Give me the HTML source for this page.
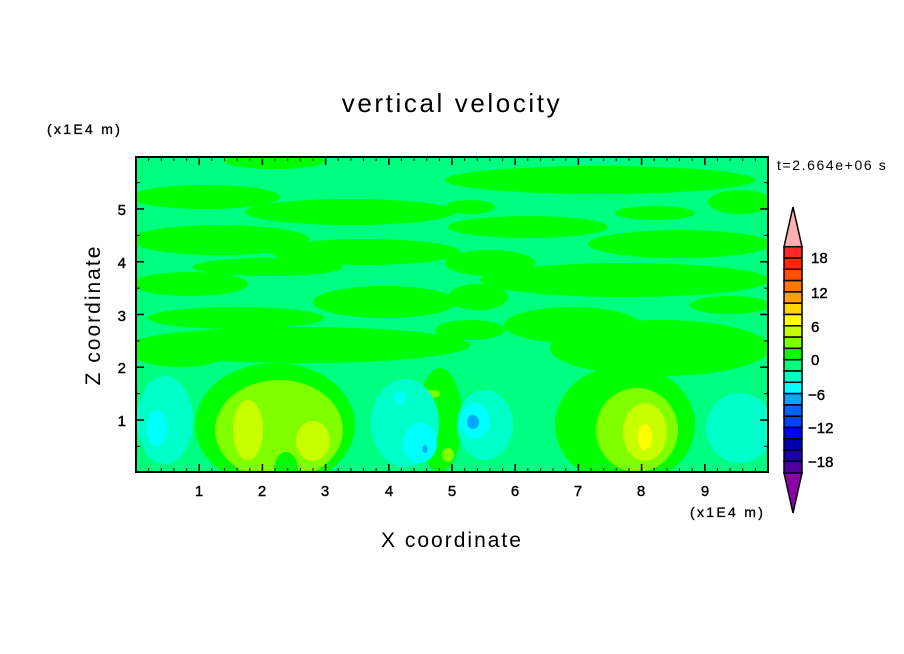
<!DOCTYPE html>
<html><head><meta charset="utf-8"><style>
html,body{margin:0;padding:0;background:#fff;}
svg{display:block;}
text{font-family:"Liberation Sans","DejaVu Sans",sans-serif;fill:#000;}
</style></head><body>
<svg width="904" height="654" viewBox="0 0 904 654" xmlns="http://www.w3.org/2000/svg">
<defs><clipPath id="c"><rect x="136" y="157" width="632" height="315"/></clipPath></defs>
<g clip-path="url(#c)">
<rect x="136" y="157" width="632" height="315" fill="#00ff80"/>
<g fill="#00ff00">
<ellipse cx="275" cy="161" rx="50" ry="8"/>
<ellipse cx="205" cy="197" rx="75" ry="12"/>
<ellipse cx="350" cy="212" rx="105" ry="13"/>
<ellipse cx="220" cy="240" rx="90" ry="15"/>
<ellipse cx="365" cy="252" rx="95" ry="13"/>
<ellipse cx="268" cy="267" rx="75" ry="9"/>
<ellipse cx="190" cy="284" rx="58" ry="12"/>
<ellipse cx="385" cy="302" rx="72" ry="16"/>
<ellipse cx="236" cy="318" rx="88" ry="11"/>
<ellipse cx="300" cy="345" rx="170" ry="18"/>
<ellipse cx="180" cy="355" rx="45" ry="12"/>
<ellipse cx="600" cy="180" rx="155" ry="14"/>
<ellipse cx="470" cy="207" rx="25" ry="7"/>
<ellipse cx="655" cy="213" rx="40" ry="7"/>
<ellipse cx="528" cy="227" rx="80" ry="11"/>
<ellipse cx="740" cy="202" rx="32" ry="12"/>
<ellipse cx="680" cy="244" rx="92" ry="14"/>
<ellipse cx="490" cy="263" rx="45" ry="13"/>
<ellipse cx="625" cy="280" rx="145" ry="17"/>
<ellipse cx="478" cy="297" rx="30" ry="13"/>
<ellipse cx="730" cy="305" rx="40" ry="9"/>
<ellipse cx="572" cy="325" rx="68" ry="18"/>
<ellipse cx="660" cy="348" rx="110" ry="28"/>
<ellipse cx="470" cy="330" rx="35" ry="10"/>
<ellipse cx="275" cy="425" rx="80" ry="62"/>
<ellipse cx="440" cy="420" rx="22" ry="52"/>
<ellipse cx="625" cy="425" rx="70" ry="60"/>
</g>
<g fill="#80ff00">
<ellipse cx="279" cy="430" rx="64" ry="50"/>
<ellipse cx="637" cy="430" rx="41" ry="42"/>
<ellipse cx="432" cy="394" rx="8" ry="4"/>
<ellipse cx="448" cy="455" rx="6" ry="7"/>
</g>
<ellipse cx="286" cy="470" rx="12" ry="18" fill="#00ff00"/>
<g fill="#c8ff00">
<ellipse cx="248" cy="430" rx="15" ry="30"/>
<ellipse cx="313" cy="441" rx="17" ry="20"/>
<ellipse cx="645" cy="432" rx="22" ry="29"/>
</g>
<ellipse cx="645" cy="437" rx="7" ry="13" fill="#ffff00"/>
<g fill="#00ffc8">
<ellipse cx="165" cy="420" rx="28" ry="44"/>
<ellipse cx="405" cy="423" rx="34" ry="44"/>
<ellipse cx="485" cy="425" rx="28" ry="35"/>
<ellipse cx="740" cy="428" rx="34" ry="35"/>
</g>
<g fill="#00ffff">
<ellipse cx="157" cy="428" rx="10" ry="18"/>
<ellipse cx="420" cy="443" rx="17" ry="20"/>
<ellipse cx="475" cy="421" rx="15" ry="18"/>
<ellipse cx="400" cy="398" rx="6" ry="6"/>
</g>
<ellipse cx="473" cy="422" rx="6" ry="7" fill="#00a8ff"/>
<ellipse cx="425" cy="449" rx="2.5" ry="4" fill="#00a8ff"/>
</g>
<rect x="136" y="157" width="632" height="315" fill="none" stroke="#000" stroke-width="2"/>
<g stroke="#000" stroke-width="1.5">
<path d="M199.2 472v-8M262.4 472v-8M325.6 472v-8M388.8 472v-8M452 472v-8M515.2 472v-8M578.4 472v-8M641.6 472v-8M704.8 472v-8M199.2 157v8M262.4 157v8M325.6 157v8M388.8 157v8M452 157v8M515.2 157v8M578.4 157v8M641.6 157v8M704.8 157v8"/>
<path d="M136 420h8M136 367.3h8M136 314.5h8M136 261.8h8M136 209h8M768 420h-8M768 367.3h-8M768 314.5h-8M768 261.8h-8M768 209h-8"/>
</g>
<g stroke="#000" stroke-width="1">
<path d="M148.6 472v-4M161.3 472v-4M173.9 472v-4M186.6 472v-4M211.8 472v-4M224.5 472v-4M237.1 472v-4M249.8 472v-4M275 472v-4M287.7 472v-4M300.3 472v-4M313 472v-4M338.2 472v-4M350.9 472v-4M363.5 472v-4M376.2 472v-4M401.4 472v-4M414.1 472v-4M426.7 472v-4M439.4 472v-4M464.6 472v-4M477.3 472v-4M489.9 472v-4M502.6 472v-4M527.8 472v-4M540.5 472v-4M553.1 472v-4M565.8 472v-4M591 472v-4M603.7 472v-4M616.3 472v-4M629 472v-4M654.2 472v-4M666.9 472v-4M679.5 472v-4M692.2 472v-4M717.4 472v-4M730.1 472v-4M742.7 472v-4M755.4 472v-4"/>
<path d="M148.6 157v4M161.3 157v4M173.9 157v4M186.6 157v4M211.8 157v4M224.5 157v4M237.1 157v4M249.8 157v4M275 157v4M287.7 157v4M300.3 157v4M313 157v4M338.2 157v4M350.9 157v4M363.5 157v4M376.2 157v4M401.4 157v4M414.1 157v4M426.7 157v4M439.4 157v4M464.6 157v4M477.3 157v4M489.9 157v4M502.6 157v4M527.8 157v4M540.5 157v4M553.1 157v4M565.8 157v4M591 157v4M603.7 157v4M616.3 157v4M629 157v4M654.2 157v4M666.9 157v4M679.5 157v4M692.2 157v4M717.4 157v4M730.1 157v4M742.7 157v4M755.4 157v4"/>
<path d="M136 446.4h4M136 393.6h4M136 340.9h4M136 288.1h4M136 235.4h4M136 182.6h4M768 446.4h-4M768 393.6h-4M768 340.9h-4M768 288.1h-4M768 235.4h-4M768 182.6h-4"/>
</g>
<g font-size="15" text-anchor="middle" stroke="#000" stroke-width="0.4">
<text x="199" y="496">1</text><text x="262" y="496">2</text><text x="325" y="496">3</text><text x="389" y="496">4</text><text x="452" y="496">5</text><text x="515" y="496">6</text><text x="578" y="496">7</text><text x="641" y="496">8</text><text x="705" y="496">9</text>
</g>
<g font-size="15" text-anchor="end" stroke="#000" stroke-width="0.4">
<text x="126" y="215">5</text><text x="126" y="268">4</text><text x="126" y="321">3</text><text x="126" y="373">2</text><text x="126" y="426">1</text>
</g>
<text x="452" y="112" font-size="26" letter-spacing="2.6" text-anchor="middle">vertical velocity</text>
<text x="452" y="547" font-size="21" letter-spacing="2" text-anchor="middle">X coordinate</text>
<text transform="translate(100,315) rotate(-90)" font-size="21" letter-spacing="2" text-anchor="middle">Z coordinate</text>
<text x="47" y="134" font-size="14" letter-spacing="2.3" stroke="#000" stroke-width="0.3">(x1E4 m)</text>
<text x="690" y="517" font-size="14" letter-spacing="2.3" stroke="#000" stroke-width="0.3">(x1E4 m)</text>
<text x="777" y="170" font-size="14" letter-spacing="1.6">t=2.664e+06 s</text>
<polygon points="793,207 784,246.7 802,246.7" fill="#ffb0b0" stroke="#000" stroke-width="1.5"/>
<polygon points="793,513 784,473 802,473" fill="#8c00a8" stroke="#000" stroke-width="1.5"/>
<g stroke="#000" stroke-width="1.5">
<rect x="784" y="246.7" width="18" height="11.3" fill="#ff2828"/>
<rect x="784" y="258" width="18" height="11.3" fill="#ff2800"/>
<rect x="784" y="269.3" width="18" height="11.3" fill="#ff5000"/>
<rect x="784" y="280.6" width="18" height="11.3" fill="#ff7800"/>
<rect x="784" y="291.9" width="18" height="11.3" fill="#ffa000"/>
<rect x="784" y="303.2" width="18" height="11.3" fill="#ffd700"/>
<rect x="784" y="314.5" width="18" height="11.3" fill="#ffff00"/>
<rect x="784" y="325.8" width="18" height="11.3" fill="#c8ff00"/>
<rect x="784" y="337.1" width="18" height="11.3" fill="#80ff00"/>
<rect x="784" y="348.4" width="18" height="11.3" fill="#00ff00"/>
<rect x="784" y="359.7" width="18" height="11.3" fill="#00ff80"/>
<rect x="784" y="371" width="18" height="11.3" fill="#00ffc8"/>
<rect x="784" y="382.3" width="18" height="11.3" fill="#00ffff"/>
<rect x="784" y="393.6" width="18" height="11.3" fill="#00a8ff"/>
<rect x="784" y="404.9" width="18" height="11.3" fill="#0064ff"/>
<rect x="784" y="416.2" width="18" height="11.3" fill="#0040ff"/>
<rect x="784" y="427.5" width="18" height="11.3" fill="#0000ff"/>
<rect x="784" y="438.8" width="18" height="11.3" fill="#0000b0"/>
<rect x="784" y="450.1" width="18" height="11.3" fill="#1e00a8"/>
<rect x="784" y="461.4" width="18" height="11.6" fill="#5000a0"/>
</g>
<g font-size="15" stroke="#000" stroke-width="0.4">
<text x="811" y="263">18</text><text x="811" y="298">12</text><text x="811" y="332">6</text><text x="811" y="365">0</text><text x="808" y="400">−6</text><text x="808" y="433">−12</text><text x="808" y="467">−18</text>
</g>
</svg>
</body></html>
